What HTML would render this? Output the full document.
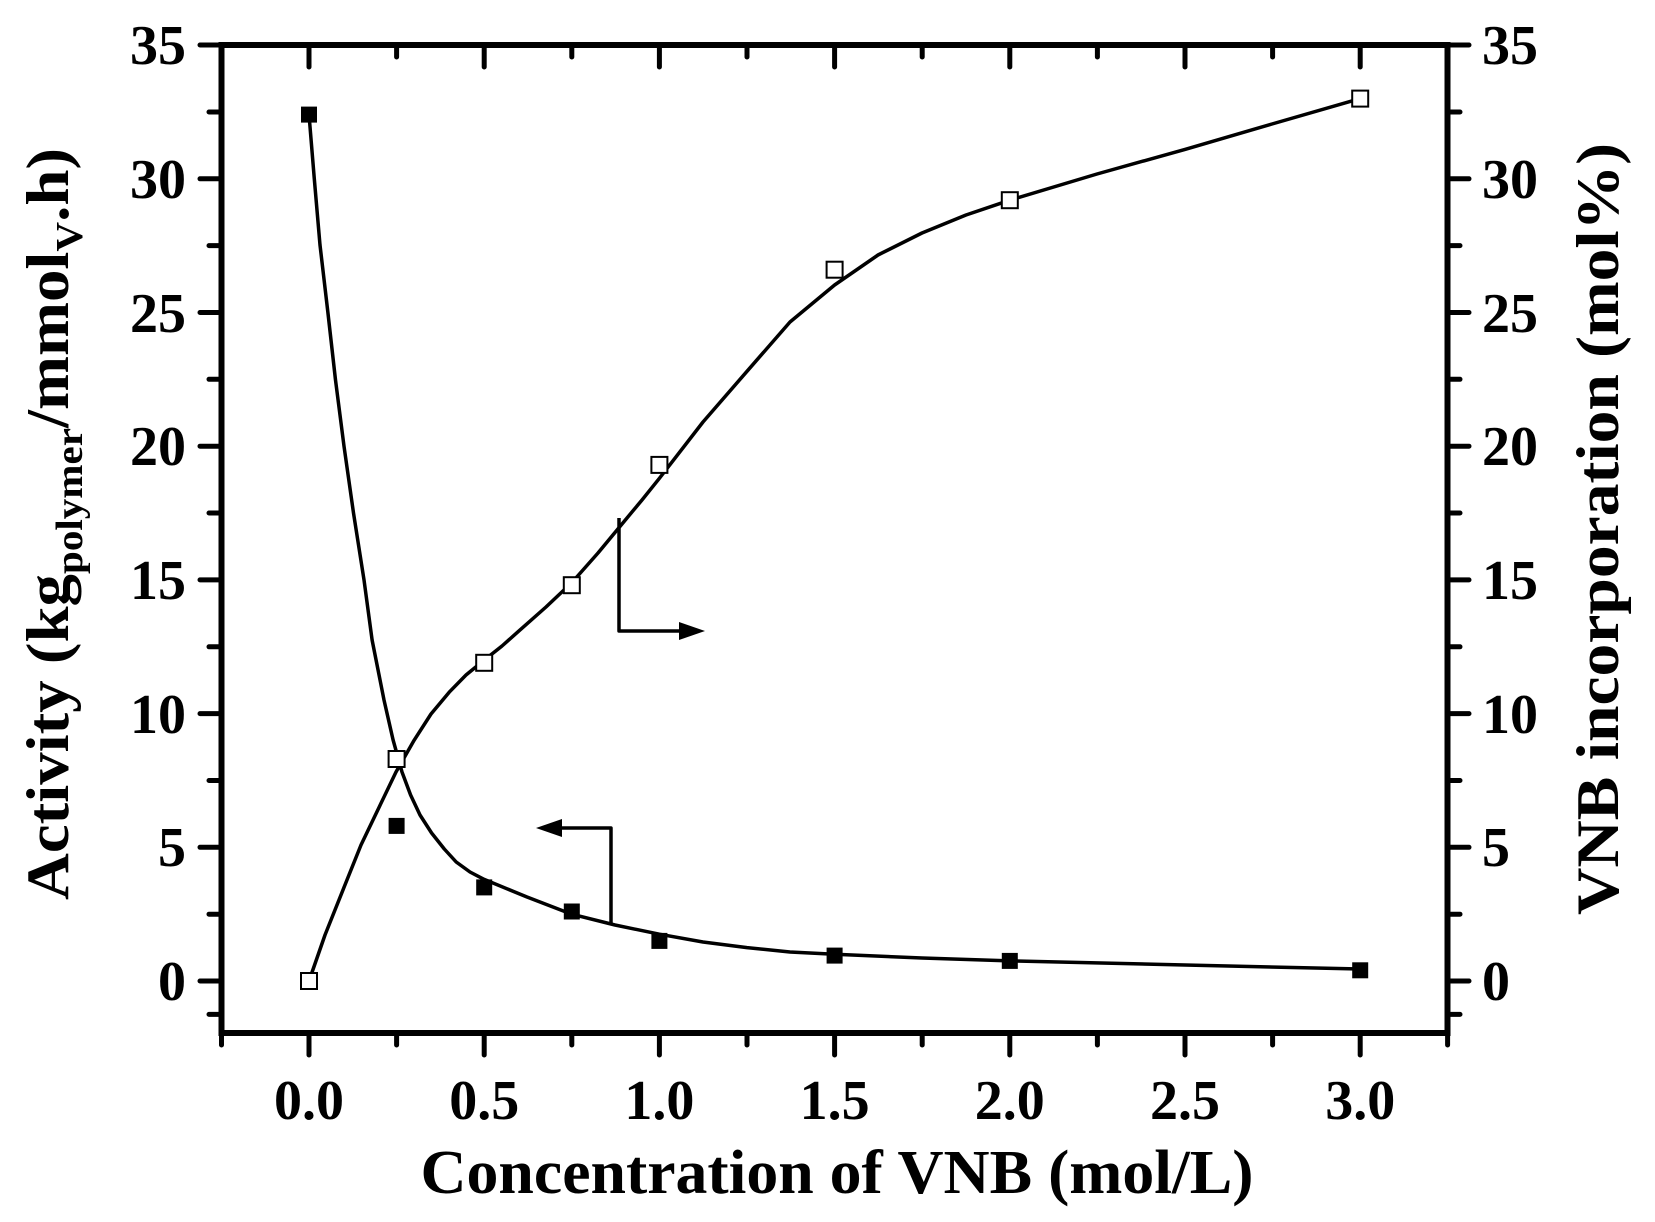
<!DOCTYPE html>
<html><head><meta charset="utf-8"><style>
html,body{margin:0;padding:0;background:#fff;}
svg{display:block;}
text{font-family:"Liberation Serif",serif;font-weight:bold;fill:#000;}
</style></head><body>
<svg width="1655" height="1222" viewBox="0 0 1655 1222" xmlns="http://www.w3.org/2000/svg">
<g stroke="#000" stroke-width="6" fill="none" stroke-linecap="square">
<rect x="221.5" y="45" width="1226" height="988"/>
</g>
<g stroke="#000" stroke-width="5" stroke-linecap="round">
<path d="M221 981H200M221 847.3H200M221 713.6H200M221 579.9H200M221 446.2H200M221 312.5H200M221 178.8H200M221 45H200"/>
<path d="M221 1014.4H209M221 914.2H209M221 780.5H209M221 646.8H209M221 513H209M221 379.3H209M221 245.6H209M221 112H209"/>
<path d="M1448 981H1469M1448 847.3H1469M1448 713.6H1469M1448 579.9H1469M1448 446.2H1469M1448 312.5H1469M1448 178.8H1469M1448 45H1469"/>
<path d="M1448 1014.4H1460M1448 914.2H1460M1448 780.5H1460M1448 646.8H1460M1448 513H1460M1448 379.3H1460M1448 245.6H1460M1448 112H1460"/>
<path d="M309 1033V1055M484.2 1033V1055M659.4 1033V1055M834.6 1033V1055M1009.8 1033V1055M1185 1033V1055M1360.2 1033V1055"/>
<path d="M221.5 1033V1045M396.6 1033V1045M571.8 1033V1045M747 1033V1045M922.2 1033V1045M1097.4 1033V1045M1272.6 1033V1045M1447.6 1033V1045"/>
<path d="M309 45V67M484.2 45V67M659.4 45V67M834.6 45V67M1009.8 45V67M1185 45V67M1360.2 45V67"/>
<path d="M396.6 45V57M571.8 45V57M747 45V57M922.2 45V57M1097.4 45V57M1272.6 45V57"/>
</g>
<g fill="none" stroke="#000" stroke-width="3.5" stroke-linejoin="round">
<polyline points="309,114.6 314.3,178.8 320,245 327.9,312.5 335.5,380 344,446.2 353.5,513 364,579.9 372.1,640 384,700 393.1,740 402,772 410.6,795 420,815 431.6,833 444.3,849 456.2,862 470,872 484.2,879.4 527,897 571.8,914.2 615,925 659.4,934.2 703,942 747,947.6 790,952 834.6,954.3 922,958 1009.8,960.9 1185,965 1360.2,969"/>
<polyline points="309,981 325,935 344,887.4 361,845 379.1,807.2 396,772 414.1,740.3 431,714 449.2,692.2 466,675 484.2,660.1 502,646 519.2,630.7 546,607 571.8,582.6 598,553 624.4,521.1 642,500 659.4,478.3 703,422 747,371.3 790,322 834.6,285 878,255 922,233 966,215 1009.8,200.2 1097,174 1185,149.4 1272,124 1360.2,98.6"/>
<path d="M611 923V828H552"/>
<path d="M619 518V631H685"/>
</g>
<path d="M536 828L562 819L562 837Z" fill="#000"/>
<path d="M705 631L679 622L679 640Z" fill="#000"/>
<g fill="#000">
<rect x="301" y="106.6" width="16" height="16"/>
<rect x="388.6" y="817.9" width="16" height="16"/>
<rect x="476.2" y="879.4" width="16" height="16"/>
<rect x="563.8" y="903.5" width="16" height="16"/>
<rect x="651.4" y="932.9" width="16" height="16"/>
<rect x="826.6" y="947.6" width="16" height="16"/>
<rect x="1001.8" y="952.9" width="16" height="16"/>
<rect x="1352.2" y="962.3" width="16" height="16"/>
</g>
<g fill="#fff" stroke="#000" stroke-width="2">
<rect x="301" y="973" width="16" height="16"/>
<rect x="388.6" y="751" width="16" height="16"/>
<rect x="476.2" y="654.8" width="16" height="16"/>
<rect x="563.8" y="577.2" width="16" height="16"/>
<rect x="651.4" y="456.9" width="16" height="16"/>
<rect x="826.6" y="261.7" width="16" height="16"/>
<rect x="1001.8" y="192.2" width="16" height="16"/>
<rect x="1352.2" y="90.6" width="16" height="16"/>
</g>
<g font-size="56" text-anchor="end">
<text x="186" y="1000">0</text><text x="186" y="866">5</text><text x="186" y="733">10</text><text x="186" y="599">15</text><text x="186" y="465">20</text><text x="186" y="332">25</text><text x="186" y="198">30</text><text x="186" y="64">35</text>
</g>
<g font-size="56" text-anchor="start">
<text x="1482" y="1000">0</text><text x="1482" y="866">5</text><text x="1482" y="733">10</text><text x="1482" y="599">15</text><text x="1482" y="465">20</text><text x="1482" y="332">25</text><text x="1482" y="198">30</text><text x="1482" y="64">35</text>
</g>
<g font-size="56" text-anchor="middle">
<text x="309" y="1119">0.0</text><text x="484.2" y="1119">0.5</text><text x="659.4" y="1119">1.0</text><text x="834.6" y="1119">1.5</text><text x="1009.8" y="1119">2.0</text><text x="1185" y="1119">2.5</text><text x="1360.2" y="1119">3.0</text>
</g>
<text x="837" y="1193" font-size="62" text-anchor="middle" textLength="833" lengthAdjust="spacingAndGlyphs">Concentration of VNB (mol/L)</text>
<text transform="translate(68,524) rotate(-90)" font-size="60" text-anchor="middle" textLength="752" lengthAdjust="spacingAndGlyphs">Activity (kg<tspan font-size="38" dy="14">polymer</tspan><tspan dy="-14">/mmol</tspan><tspan font-size="38" dy="14">V</tspan><tspan dy="-14">.h)</tspan></text>
<text transform="translate(1618,529) rotate(-90)" font-size="60" text-anchor="middle" textLength="772" lengthAdjust="spacingAndGlyphs">VNB incorporation (mol%)</text>
</svg>
</body></html>
